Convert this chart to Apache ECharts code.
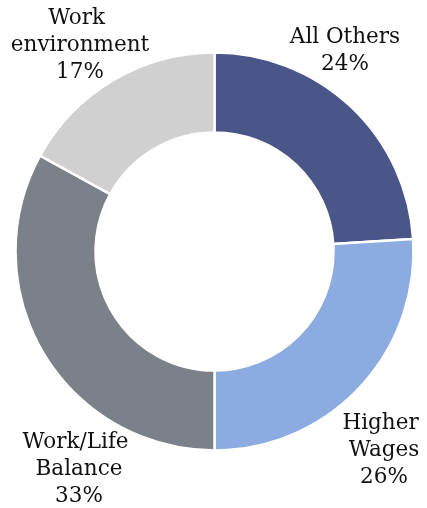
<!DOCTYPE html>
<html>
<head>
<meta charset="utf-8">
<script src="https://cdn.jsdelivr.net/npm/echarts@6/dist/echarts.min.js"></script>
<style>
  html, body { margin: 0; padding: 0; background: #fff; }
  #chart { width: 427px; height: 508px; }
</style>
</head>
<body>
<div id="chart"></div>
<script>
// Reasons, clockwise from 12 o'clock
const categories = ['All Others', 'Higher Wages', 'Work/Life Balance', 'Work environment'];
const shares = [24, 26, 33, 17];
const colors = ['#4a5588', '#8cabe0', '#7c8089', '#d0d0d0'];

// Where each label block is centred, and how wide it may get before wrapping
const labelSpots = [[345, 51], [384, 450], [79, 469], [80, 45]];
const labelWidths = [125, 125, 125, 165];

const chart = echarts.init(document.getElementById('chart'), null, { renderer: 'canvas' });

chart.setOption({
  animation: false,
  series: [{
    type: 'pie',
    center: [214.5, 251.5],
    radius: [119, 199],
    startAngle: 90,
    clockwise: true,
    avoidLabelOverlap: false,
    itemStyle: { borderColor: '#fff', borderWidth: 2.5 },
    label: {
      show: true,
      position: 'outside',
      formatter: p => p.name + '\n' + p.percent + '%',
      fontFamily: 'DejaVu Serif',
      fontSize: 21.5,
      lineHeight: 27,
      color: '#111',
      align: 'center',
      overflow: 'break'
    },
    labelLine: { show: false },
    labelLayout: params => {
      const s = labelSpots[params.dataIndex];
      return { x: s[0], y: s[1], align: 'center', verticalAlign: 'middle' };
    },
    data: categories.map((name, i) => ({
      name,
      value: shares[i],
      itemStyle: { color: colors[i] },
      label: { width: labelWidths[i] }
    }))
  }]
});
</script>
</body>
</html>
